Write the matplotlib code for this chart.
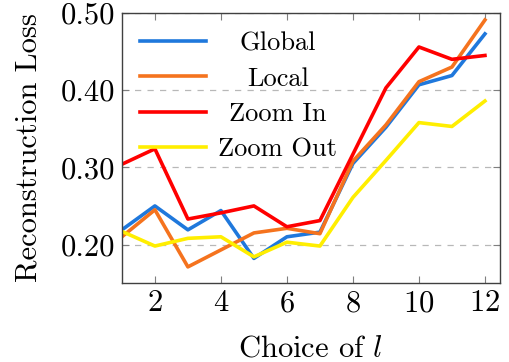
import matplotlib

matplotlib.use("Agg")
import matplotlib.pyplot as plt

choices = list(range(1, 13))
global_loss = [0.219, 0.250, 0.219, 0.244, 0.182, 0.210, 0.216, 0.305, 0.352, 0.407, 0.419, 0.473]
local_loss = [0.210, 0.245, 0.171, 0.193, 0.215, 0.221, 0.214, 0.308, 0.355, 0.411, 0.430, 0.491]
zoom_in_loss = [0.304, 0.324, 0.233, 0.241, 0.250, 0.223, 0.231, 0.317, 0.403, 0.456, 0.440, 0.445]
zoom_out_loss = [0.217, 0.198, 0.208, 0.210, 0.184, 0.203, 0.198, 0.261, 0.309, 0.358, 0.353, 0.386]
labels = ["Global", "Local", "Zoom In", "Zoom Out"]
colors = ["#1f78dc", "#f5731e", "#ff0000", "#ffee00"]
x_ticks = [2, 4, 6, 8, 10, 12]
y_ticks = [0.20, 0.30, 0.40, 0.50]

plt.rcParams["font.family"] = "cmr10"
plt.rcParams["mathtext.fontset"] = "cm"
plt.rcParams["axes.formatter.use_mathtext"] = True

fig = plt.figure(figsize=(5.1, 3.62), dpi=100)
ax = fig.add_axes([0.239, 0.218, 0.741, 0.746])

for series, label, color in zip(
    [global_loss, local_loss, zoom_in_loss, zoom_out_loss], labels, colors
):
    ax.plot(choices, series, color=color, linewidth=2.6, label=label)

ax.set_xlim(1, 12.45)
ax.set_ylim(0.15, 0.50)
ax.set_xticks(x_ticks)
ax.set_yticks(y_ticks)
ax.set_yticklabels([f"{v:.2f}" for v in y_ticks])
ax.tick_params(direction="in", top=True, right=True, length=5, color="#7f7f7f",
               labelsize=22, pad=5)
ax.yaxis.grid(True, linestyle=(0, (5, 5)), color="#b8b8b8", linewidth=0.9)
ax.set_axisbelow(True)
for spine in ax.spines.values():
    spine.set_color("#404040")
    spine.set_linewidth(1.0)

ax.set_xlabel(r"Choice of $l$", fontsize=22, labelpad=13)
ax.set_ylabel("Reconstruction Loss", fontsize=22, labelpad=13)

leg = ax.legend(loc="upper left", frameon=False, fontsize=19, handlelength=2.5,
                handletextpad=0.45, labelspacing=0.44, borderaxespad=0.3,
                bbox_to_anchor=(0.0, 1.0))

# centre legend labels like pgfplots does
fig.canvas.draw()
renderer = fig.canvas.get_renderer()
texts = leg.get_texts()
widths = [t.get_window_extent(renderer).width for t in texts]
widest = max(widths)
for t, w in zip(texts, widths):
    t.set_position(((widest - w) / 2, 0))

fig.savefig("out.png", dpi=100)
plt.close(fig)
